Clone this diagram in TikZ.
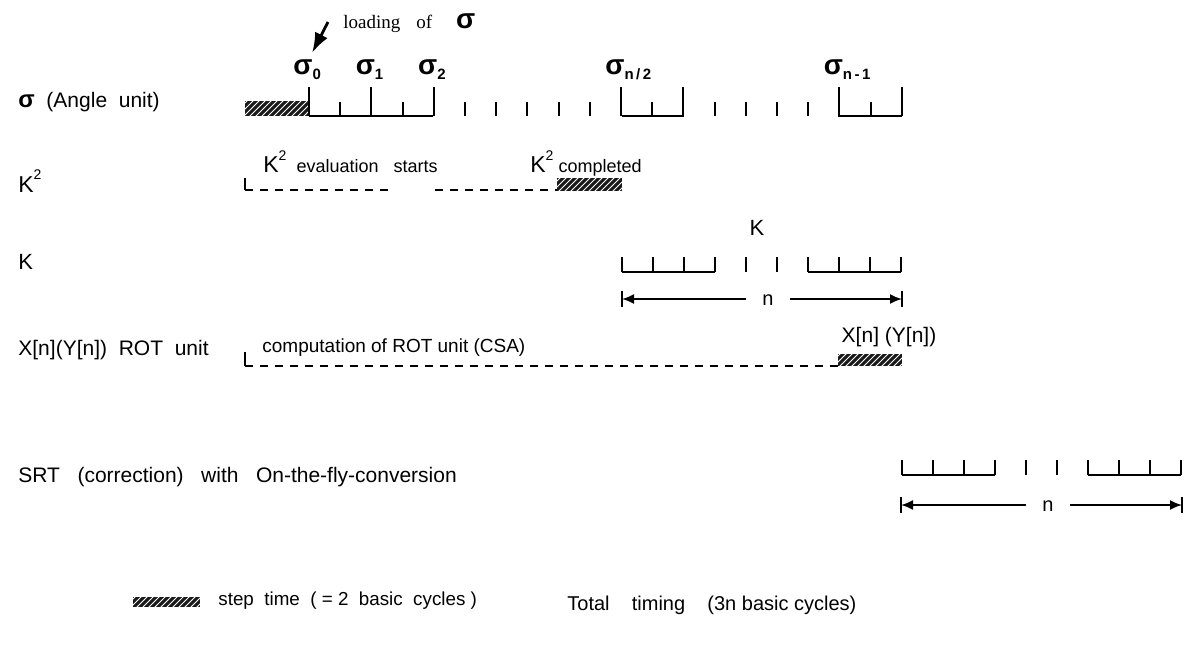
\documentclass[tikz,border=0pt]{standalone}
\usepackage{fontspec}
\setmainfont{Liberation Sans}
\newfontfamily\timesfont{Liberation Serif}
\usetikzlibrary{arrows.meta,patterns}
\newcommand\sigbig{{\rmfamily\fontsize{14}{14}\selectfont\bfseries σ}}
\newcommand\sigsub[1]{\sigbig\raisebox{-0.45ex}{\fontsize{7.5}{8}\selectfont\bfseries #1}}
\newcommand\ksq{{\fontsize{11.5}{12}\selectfont K}\raisebox{1.2ex}{\fontsize{7}{7}\selectfont 2}}
\tikzset{
  >={Latex[length=6pt,width=5pt]},
  tick/.style={line width=1pt},
  base/.style={line width=0.8pt},
  hatch/.style={fill=black!90,postaction={pattern=north east lines,pattern color=white}},
  wait/.style={line width=0.8pt,dash pattern=on 4pt off 3.5pt},
  txt/.style={inner sep=0pt,font=\fontsize{9}{10}\selectfont},
  rowlabel/.style={txt,anchor=west,font=\fontsize{10.5}{11}\selectfont},
  siglab/.style={inner sep=0pt,anchor=base west},
  span/.style={->,line width=0.9pt},
  nlab/.style={txt,inner xsep=8pt,font=\fontsize{10}{10}\selectfont},
}
\begin{document}
\begin{tikzpicture}[x=0.5pt,y=-0.5pt]
\useasboundingbox (0,0) rectangle (1190,648);

% row labels
\node[rowlabel] (lsig) at (18,102) {{\fontsize{12}{12}\selectfont\bfseries σ}\ \ (Angle\ \ unit)};
\node[rowlabel] (lk2) at (18,181) {\ksq};
\node[rowlabel,font=\fontsize{11}{11}\selectfont] (lk) at (18,262) {K};
\node[rowlabel] (lrot) at (18,350) {X[n](Y[n])\ \ ROT\ \ unit};
\node[rowlabel] (lsrt) at (18,477) {SRT\ \ \ (correction)\ \ \ with\ \ \ On-the-fly-conversion};

% sigma row
\fill[hatch] (245,101) rectangle (309,116);
\foreach \k in {0,2,4,10,12,17,19}
  \draw[tick] (309+31.2*\k,87) -- (309+31.2*\k,116);
\foreach \k in {1,3,5,6,7,8,9,11,13,14,15,16,18}
  \draw[tick] (309+31.2*\k,102) -- (309+31.2*\k,116);
\foreach \a/\b in {309/433,622/684,838/902}
  \draw[base] (\a,116) -- (\b,116);
\foreach \k/\s/\n in {0/0/s0,2/1/s1,4/2/s2,10/{n\,/\,2}/shalf,17/{n\,-\,1}/slast}
  \node[siglab] (\n) at (309+31.2*\k-16,75) {\sigsub{\s}};
\node[txt,anchor=west,font=\timesfont\fontsize{9.5}{10}\selectfont] (load) at (343,23) {loading\hspace{8pt}of\hspace{12pt}\sigbig};
\coordinate (ltail) at (328,22);
\draw[->,line width=1.4pt,>={Latex[length=10pt,width=7pt]}] (ltail) -- ([xshift=2.5pt,yshift=3.5pt]s0.north);

% K^2 row
\draw[tick] (245,178) -- (245,190);
\draw[wait] (245,190) -- (390,190);
\draw[wait] (435,190) -- (557,190);
\fill[hatch] (557,178) rectangle (622,191);
\node[txt,anchor=base west] (k2start) at (263,172) {\ksq\ \ evaluation\ \ \ starts};
\node[txt,anchor=base west] (k2done) at (530,172) {\ksq\ completed};

% K row
\node[txt,font=\fontsize{11}{11}\selectfont] (klab) at (757,228) {K};
\foreach \x in {622,653,684,715,746,777,808,839,870,901}
  \draw[tick] (\x,257) -- (\x,272);
\draw[base] (622,272) -- (715,272);
\draw[base] (808,272) -- (901,272);
\node[nlab] (nk) at (768,300) {n};
\coordinate (kl) at (622,299);
\coordinate (kr) at (902,299);
\draw[span] (nk.west|-kl) -- (kl);
\draw[span] (nk.east|-kr) -- (kr);
\draw[tick] ([yshift=4pt]kl) -- ([yshift=-4pt]kl);
\draw[tick] ([yshift=4pt]kr) -- ([yshift=-4pt]kr);

% X[n] (Y[n]) row
\draw[tick] (245,352) -- (245,366);
\draw[wait] (245,366) -- (838,366);
\fill[hatch] (838,354) rectangle (902,366);
\node[txt,anchor=base west,font=\fontsize{9.5}{10}\selectfont] (rot) at (262,352) {computation\ of\ ROT\ unit\ (CSA)};
\node[txt,font=\fontsize{10.5}{10}\selectfont] (xn) at (889,337) {X[n]\ (Y[n])};

% SRT row
\foreach \x in {902,933,964,995,1026,1057,1088,1119,1150,1181}
  \draw[tick] (\x,460) -- (\x,475);
\draw[base] (902,475) -- (995,475);
\draw[base] (1088,475) -- (1181,475);
\node[nlab] (ns) at (1048,506) {n};
\coordinate (sl) at (901,505);
\coordinate (sr) at (1182,505);
\draw[span] (ns.west|-sl) -- (sl);
\draw[span] (ns.east|-sr) -- (sr);
\draw[tick] ([yshift=4pt]sl) -- ([yshift=-4pt]sl);
\draw[tick] ([yshift=4pt]sr) -- ([yshift=-4pt]sr);

% legend
\fill[hatch] (133,597) rectangle (200,607);
\node[txt,anchor=west,font=\fontsize{9.4}{10}\selectfont] (step) at (218,601) {step\ \ time\ \ (\ =\ 2\ \ basic\ \ cycles\ )};
\node[txt,anchor=west,font=\fontsize{10}{10}\selectfont] (total) at (567,605) {Total\ \ \ \ timing\ \ \ \ (3n\ basic\ cycles)};
\end{tikzpicture}
\end{document}
